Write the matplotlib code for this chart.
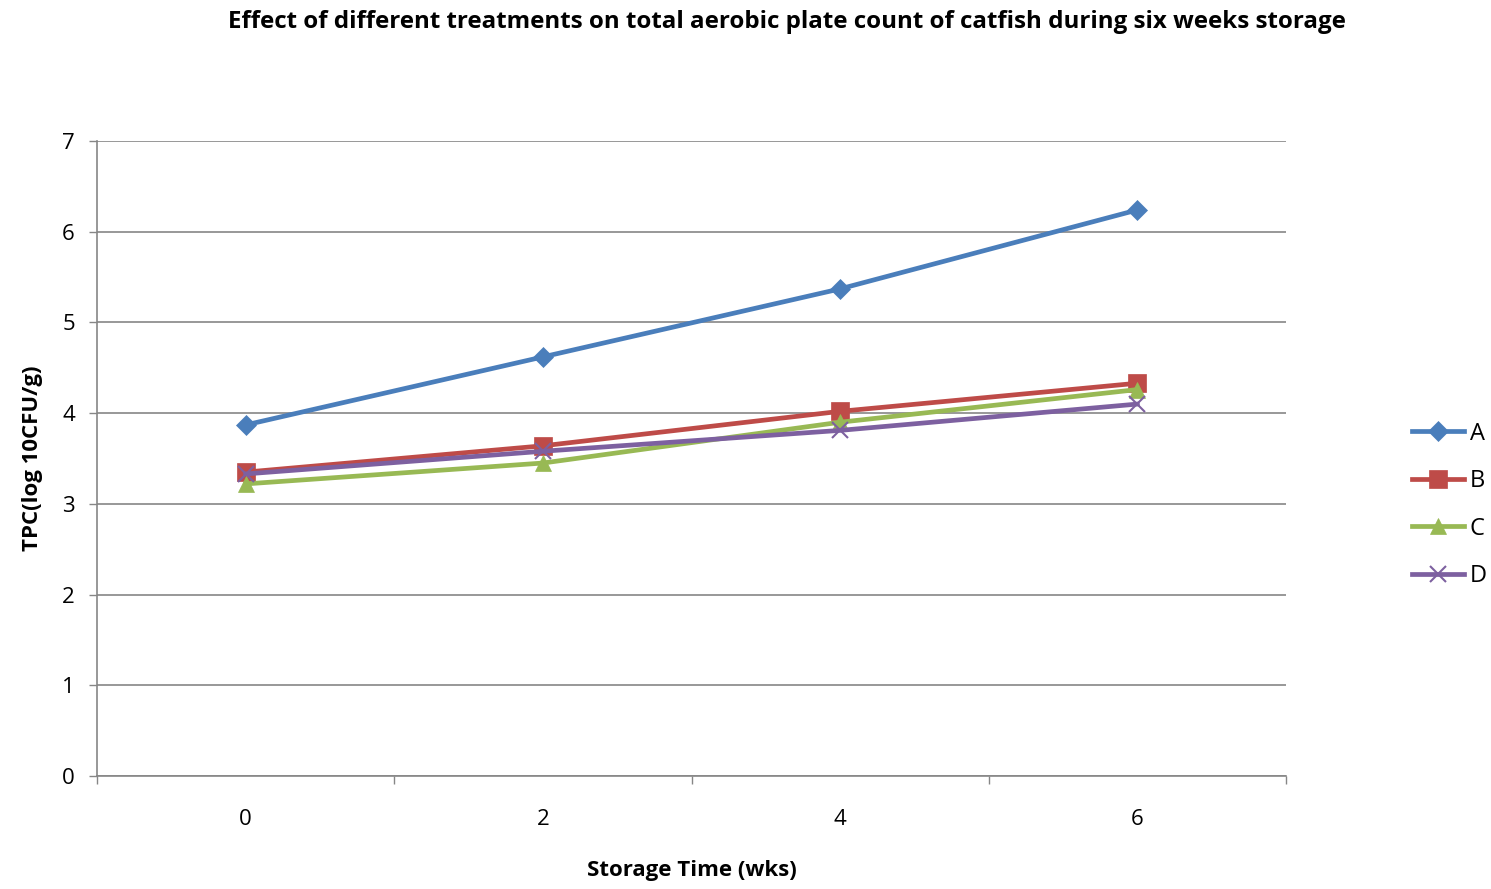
import matplotlib.pyplot as plt
import numpy as np

plt.rcParams['font.family'] = ['Open Sans', 'DejaVu Sans']

weeks = ['0', '2', '4', '6']
series_names = ['A', 'B', 'C', 'D']
tpc_a = [3.87, 4.62, 5.37, 6.24]
tpc_b = [3.35, 3.64, 4.02, 4.33]
tpc_c = [3.22, 3.45, 3.90, 4.26]
tpc_d = [3.33, 3.58, 3.81, 4.10]

colors = ['#4A7EBB', '#BE4B48', '#98B954', '#7D60A0']
markers = ['D', 's', '^', 'x']
msizes = [10, 13, 12, 12]

fig = plt.figure(figsize=(14.91, 8.89), dpi=100)
ax = fig.add_axes([0.0651, 0.1271, 0.7974, 0.7143])

x = np.arange(len(weeks))
for vals, name, c, m, ms in zip([tpc_a, tpc_b, tpc_c, tpc_d], series_names,
                                colors, markers, msizes):
    ax.plot(x, vals, color=c, lw=3.4, marker=m, markersize=ms,
            markeredgewidth=1.5 if m == 'x' else 0.5, markeredgecolor=c,
            label=name, zorder=3)

ax.set_xlim(-0.5, 3.5)
ax.set_ylim(0, 7)
ax.set_yticks(range(0, 8))
ax.set_xticks(x)
ax.set_xticklabels(weeks)
ax.set_xticks(np.arange(-0.5, 4, 1), minor=True)
ax.tick_params(axis='x', which='major', length=0, pad=24, labelsize=16)
ax.tick_params(axis='x', which='minor', length=6, color='#868686', width=1)
ax.tick_params(axis='y', length=6, color='#868686', width=1, labelsize=16, pad=10)
ax.grid(axis='y', color='#868686', lw=1.2)
ax.set_axisbelow(True)
for s in ['top', 'right']:
    ax.spines[s].set_visible(False)
for s in ['left', 'bottom']:
    ax.spines[s].set_color('#868686')
    ax.spines[s].set_linewidth(1.2)

ax.set_xlabel('Storage Time (wks)', fontsize=16, fontweight='bold', labelpad=21)
ax.set_ylabel('TPC(log 10CFU/g)', fontsize=16, fontweight='bold', labelpad=14)
fig.text(0.528, 0.989, 'Effect of different treatments on total aerobic plate count of catfish during six weeks storage',
         ha='center', va='top', fontsize=17.4, fontweight='bold')

ax.legend(loc='center left', bbox_to_anchor=(0.939, 0.432), bbox_transform=fig.transFigure,
          frameon=False, fontsize=17, labelspacing=1.0, handlelength=2.2,
          handletextpad=0.25, borderpad=0)

plt.savefig('out.png')
